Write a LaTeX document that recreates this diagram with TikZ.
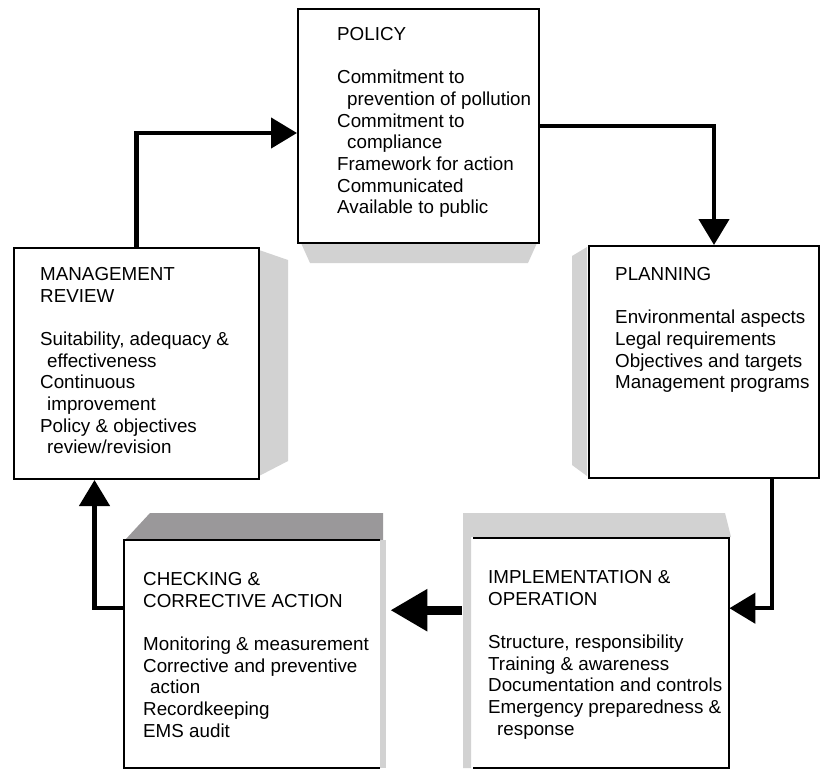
\documentclass[tikz,border=0pt]{standalone}
\usepackage{fontspec}
\setmainfont{Liberation Sans}
\usetikzlibrary{arrows.meta,positioning}
\definecolor{sidegrey}{HTML}{D2D2D2}
\definecolor{topgrey}{HTML}{9A989A}
\begin{document}
\begin{tikzpicture}[x=1pt,y=-1pt,
	box/.style={draw, line width=2pt, anchor=north west, inner sep=0},
	openbox/.style={anchor=north west, inner sep=0},
	txt/.style={inner sep=0, align=left, font=\fontsize{18.8}{21.7}\selectfont},
	flow/.style={line width=4.5pt, -{Triangle[length=26pt,width=30pt]}},
	bigflow/.style={line width=9pt, -{Triangle[length=37pt,width=40pt]}}]
				\useasboundingbox (0,0) rectangle (821,772);
				% grey faces
				\fill[sidegrey] (301,243)--(537,243)--(528,263)--(310,263)--cycle;
				\fill[sidegrey] (259,250)--(288,260)--(288,461)--(259,476)--cycle;
				\fill[sidegrey] (587,247)--(572,256)--(572,465)--(587,476)--cycle;
				\fill[topgrey] (150,513)--(383,513)--(383,540)--(125,540)--cycle;
				\fill[sidegrey] (380,540)--(386,540)--(386,768)--(380,768)--cycle;
				\fill[sidegrey] (463,513)--(725,513)--(731,537)--(471,537)--(471,768)--(463,768)--cycle;
				% boxes
				\node[box, minimum width=241, minimum height=234, at={(297,8)}] (policy) {};
				\node[box, minimum width=245, minimum height=231, at={(13,247)}] (review) {};
				\node[box, minimum width=230, minimum height=232, at={(588,245)}] (planning) {};
				\node[openbox, minimum width=256, minimum height=228, at={(124,540)}] (checking) {};
				\node[openbox, minimum width=256, minimum height=230, at={(473,538)}] (implementation) {};
				\draw[line width=2pt] (checking.north east)--(checking.north west)--(checking.south west)--(checking.south east);
				\draw[line width=2pt] (implementation.north west)--(implementation.north east)--(implementation.south east)--(implementation.south west);
				% texts
				\node[txt, below right=19pt and 40pt of policy.north west] (policytxt) {POLICY\\[21.7pt]Commitment to\\\hspace*{10pt}prevention of pollution\\Commitment to\\\hspace*{10pt}compliance\\Framework for action\\Communicated\\Available to public};
				\node[txt, below right=20pt and 27pt of review.north west] (reviewtxt) {MANAGEMENT\\REVIEW\\[21.7pt]Suitability, adequacy \&\\\hspace*{7pt}effectiveness\\Continuous\\\hspace*{7pt}improvement\\Policy \& objectives\\\hspace*{7pt}review/revision};
				\node[txt, below right=22pt and 27pt of planning.north west] (planningtxt) {PLANNING\\[21.7pt]Environmental aspects\\Legal requirements\\Objectives and targets\\Management programs};
				\node[txt, below right=32pt and 19pt of checking.north west] (checkingtxt) {CHECKING \&\\CORRECTIVE ACTION\\[21.7pt]Monitoring \& measurement\\Corrective and preventive\\\hspace*{7pt}action\\Recordkeeping\\EMS audit};
				\node[txt, below right=32pt and 15pt of implementation.north west] (implementationtxt) {IMPLEMENTATION \&\\OPERATION\\[21.7pt]Structure, responsibility\\Training \& awareness\\Documentation and controls\\Emergency preparedness \&\\\hspace*{9pt}response};
				% cycle
				\draw[flow] (review.north) |- ([yshift=-7pt]policy.west);
				\draw[flow] (policy.east) -| ([xshift=10pt]planning.north);
				\draw[flow] ([xshift=-48pt]planning.south east) |- ([yshift=45pt]implementation.east);
				\draw[bigflow] ([xshift=-11pt,yshift=43pt]implementation.west) -- ([xshift=10pt,yshift=44pt]checking.east);
				\draw[flow] ([yshift=46pt]checking.west) -| ([xshift=-42pt]review.south);
				\end{tikzpicture}
\end{document}
